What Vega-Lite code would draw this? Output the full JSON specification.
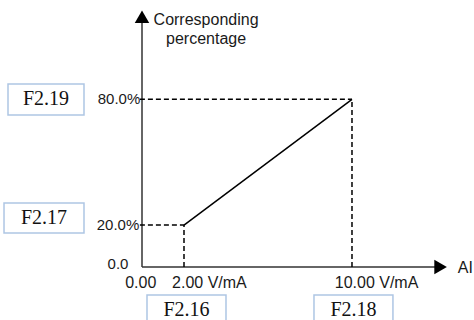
{
  "$schema": "https://vega.github.io/schema/vega-lite/v6.json",
  "width": 300,
  "height": 255,
  "autosize": {"type": "none"},
  "padding": {"left": 142, "top": 12, "right": 32, "bottom": 53},
  "background": "white",
  "config": {"view": {"stroke": null}},
  "datasets": {
    "boxes": [
      {"label": "F2.19", "x": -6.381, "x2": -2.762, "y": 72.55, "y2": 87.35},
      {"label": "F2.17", "x": -6.571, "x2": -2.762, "y": 16.23, "y2": 30.55},
      {"label": "F2.16", "x": 0.238, "x2": 4.0, "y": -27.7, "y2": -13.37},
      {"label": "F2.18", "x": 8.19, "x2": 11.95, "y": -27.7, "y2": -13.37}
    ],
    "boxtext": [
      {"label": "F2.19", "x": -4.571, "y": 80.2},
      {"label": "F2.17", "x": -4.667, "y": 23.4},
      {"label": "F2.16", "x": 2.119, "y": -20.5},
      {"label": "F2.18", "x": 10.07, "y": -20.5}
    ],
    "axes": [
      {"x": 0, "y": 0, "x2": 14.2, "y2": 0},
      {"x": 0, "y": 0, "x2": 0, "y2": 119.4}
    ],
    "arrows": [
      {"x": 14.22, "y": 0, "dir": "right"},
      {"x": 0, "y": 119.4, "dir": "up"}
    ],
    "dashes": [
      {"x": -0.1, "y": 80, "x2": 10, "y2": 80},
      {"x": 10, "y": 0, "x2": 10, "y2": 80},
      {"x": -0.1, "y": 20, "x2": 2, "y2": 20},
      {"x": 2, "y": 0, "x2": 2, "y2": 20}
    ],
    "curve": [
      {"x": 2, "y": 20},
      {"x": 10, "y": 80}
    ],
    "ylabels": [
      {"label": "80.0%", "x": -1.095, "y": 80.2},
      {"label": "20.0%", "x": -1.143, "y": 20},
      {"label": "0.0", "x": -1.143, "y": 1.43}
    ],
    "xlabels": [
      {"label": "0.00", "x": -0.06, "y": -7.64},
      {"label": "2.00 V/mA", "x": 3.21, "y": -7.64},
      {"label": "10.00 V/mA", "x": 11.17, "y": -7.64},
      {"label": "AI", "x": 15.4, "y": -0.5},
      {"label": "Corresponding", "x": 3.05, "y": 117.9},
      {"label": "percentage", "x": 3.05, "y": 108.8}
    ]
  },
  "encoding": {
    "x": {"field": "x", "type": "quantitative", "scale": {"domain": [0, 14.286], "nice": false, "zero": false}, "axis": null},
    "y": {"field": "y", "type": "quantitative", "scale": {"domain": [0, 121.7], "nice": false, "zero": false}, "axis": null}
  },
  "layer": [
    {
      "data": {"name": "boxes"},
      "mark": {"type": "rect", "fill": "white", "stroke": "#aec6e4", "strokeWidth": 1.5, "clip": false},
      "encoding": {"x2": {"field": "x2"}, "y2": {"field": "y2"}}
    },
    {
      "data": {"name": "boxtext"},
      "mark": {"type": "text", "font": "Liberation Serif", "fontSize": 20, "color": "#111", "align": "center", "baseline": "middle"},
      "encoding": {"text": {"field": "label"}}
    },
    {
      "data": {"name": "axes"},
      "mark": {"type": "rule", "color": "#333", "strokeWidth": 1.5},
      "encoding": {"x2": {"field": "x2"}, "y2": {"field": "y2"}}
    },
    {
      "data": {"name": "arrows"},
      "mark": {"type": "point", "filled": true, "size": 210, "color": "black", "opacity": 1},
      "encoding": {"shape": {"field": "dir", "type": "nominal", "scale": {"domain": ["right", "up"], "range": ["triangle-right", "triangle-up"]}, "legend": null}}
    },
    {
      "data": {"name": "dashes"},
      "mark": {"type": "rule", "color": "black", "strokeWidth": 1.5, "strokeDash": [5, 3]},
      "encoding": {"x2": {"field": "x2"}, "y2": {"field": "y2"}}
    },
    {
      "data": {"name": "curve"},
      "mark": {"type": "line", "color": "black", "strokeWidth": 1.5},
      "encoding": {}
    },
    {
      "data": {"name": "ylabels"},
      "mark": {"type": "text", "font": "Liberation Sans", "fontSize": 15, "color": "#1a1a1a", "align": "center", "baseline": "middle"},
      "encoding": {"text": {"field": "label"}}
    },
    {
      "data": {"name": "xlabels"},
      "mark": {"type": "text", "font": "Liberation Sans", "fontSize": 16, "color": "#1a1a1a", "align": "center", "baseline": "middle"},
      "encoding": {"text": {"field": "label"}}
    }
  ]
}
